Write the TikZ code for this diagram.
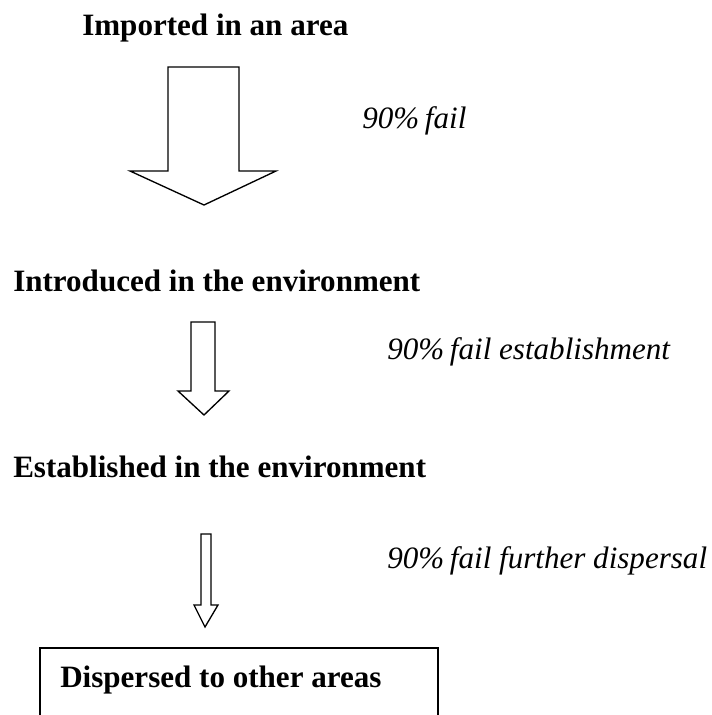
\documentclass[tikz,border=0pt]{standalone}
\usepackage{fontspec}
\setmainfont{Liberation Serif}[ItalicFont={Liberation Serif Italic},BoldFont={Liberation Serif Bold}]
\begin{document}
\begin{tikzpicture}[x=0.75pt,y=-0.75pt,
  lbl/.style={anchor=base west,inner sep=0pt,font=\fontsize{23.3}{28}\selectfont\bfseries},
  note/.style={anchor=base west,inner sep=0pt,font=\fontsize{23.3}{28}\selectfont\itshape},
  blockarrow/.style={draw=black,line width=1pt,fill=white,line join=miter}]
\useasboundingbox (0,0) rectangle (712,715);
\node[lbl] (imp) at (82,35.5) {Imported in an area};
\node[note] (n1) at (362,128) {90\%\kern-1.5pt\ fail};
\node[lbl] (intro) at (13,291) {Introduced in the environment};
\node[note] (n2) at (387,359) {90\%\kern-1.5pt\ fail establishment};
\node[lbl] (est) at (13,477) {Established in the environment};
\node[note] (n3) at (387,568) {90\%\kern-1.5pt\ fail further dispersal};
\node[lbl] (disp) at (60,687) {Dispersed to other areas};
% block arrows
\draw[blockarrow] (168,67) -- (239,67) -- (239,171) -- (276,171) -- (204,205) -- (130,171) -- (168,171) -- cycle;
\draw[blockarrow] (191,322) -- (215,322) -- (215,391) -- (229,391) -- (204,415) -- (178,391) -- (191,391) -- cycle;
\draw[blockarrow] (201,534) -- (211,534) -- (211,605) -- (218,605) -- (205,627) -- (194,605) -- (201,605) -- cycle;
% box (cut at bottom)
\begin{scope}
\clip (0,0) rectangle (712,715);
\draw[line width=1.1pt] (40,720) -- (40,648) -- (438,648) -- (438,720);
\end{scope}
\end{tikzpicture}
\end{document}
